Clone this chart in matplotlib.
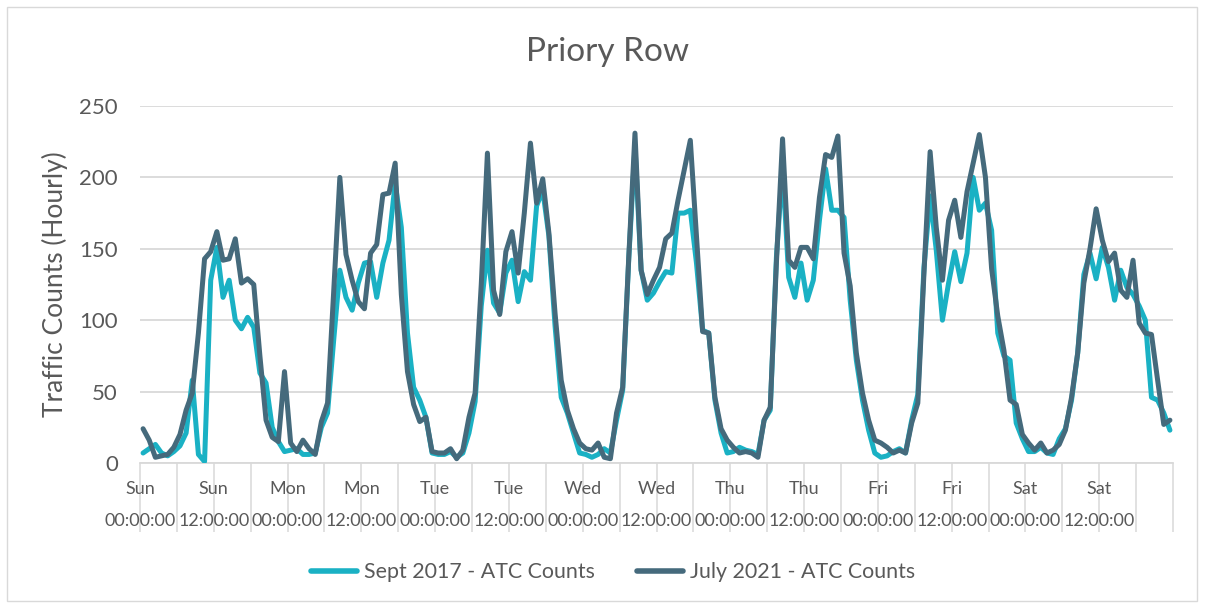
import matplotlib
matplotlib.use("Agg")
import matplotlib.pyplot as plt
from matplotlib.patches import Rectangle
import numpy as np

# ---- data (hourly counts, Sun 00:00 .. Sat 23:00) ----
sept_2017 = [
    7, 10, 13, 7, 5, 8, 12, 21, 58, 6, 1, 128, 151, 116, 128, 100, 94, 102, 95, 63, 56, 25, 15, 8,          # Sun
    9, 10, 6, 6, 7, 25, 35, 86, 135, 116, 107, 126, 140, 141, 116, 140, 156, 196, 165, 91, 53, 44, 32, 7,   # Mon
    6, 6, 8, 4, 7, 21, 43, 110, 149, 112, 105, 133, 142, 113, 134, 128, 180, 191, 159, 96, 46, 35, 21, 7,   # Tue
    6, 4, 6, 10, 7, 30, 51, 144, 222, 135, 114, 119, 127, 134, 133, 175, 175, 177, 140, 93, 91, 44, 21, 7,  # Wed
    8, 11, 9, 8, 6, 30, 37, 144, 208, 130, 116, 140, 114, 128, 170, 206, 177, 177, 172, 114, 72, 44, 23, 7, # Thu
    4, 5, 8, 10, 7, 30, 48, 137, 187, 149, 100, 126, 148, 127, 147, 200, 177, 182, 163, 91, 75, 72, 28, 17, # Fri
    8, 8, 11, 7, 6, 17, 24, 44, 77, 132, 147, 129, 151, 137, 114, 135, 123, 118, 110, 100, 46, 44, 35, 23,  # Sat
]
july_2021 = [
    24, 16, 4, 5, 6, 11, 20, 37, 49, 91, 143, 148, 162, 142, 143, 157, 126, 129, 125, 75, 30, 18, 15, 64,   # Sun
    14, 8, 16, 10, 6, 29, 42, 120, 200, 146, 128, 113, 108, 147, 153, 188, 189, 210, 118, 64, 41, 29, 32, 8, # Mon
    7, 7, 10, 3, 9, 32, 49, 125, 217, 121, 104, 148, 162, 133, 175, 224, 182, 199, 161, 105, 58, 37, 24, 14, # Tue
    10, 9, 14, 4, 3, 35, 53, 145, 231, 135, 118, 128, 137, 157, 161, 184, 205, 226, 159, 92, 91, 46, 24, 16, # Wed
    11, 7, 8, 7, 4, 30, 39, 140, 227, 142, 137, 151, 151, 143, 186, 216, 214, 229, 147, 124, 77, 49, 30, 16, # Thu
    14, 11, 7, 9, 7, 28, 42, 133, 218, 165, 128, 170, 184, 158, 190, 210, 230, 200, 136, 103, 79, 44, 41, 20, # Fri
    14, 9, 14, 7, 9, 13, 23, 46, 77, 126, 150, 178, 156, 141, 147, 121, 116, 142, 98, 91, 90, 58, 27, 30,    # Sat
]
days = ["Sun", "Mon", "Tue", "Wed", "Thu", "Fri", "Sat"]
times = ["00:00:00", "12:00:00"]
series_names = ["Sept 2017 - ATC Counts", "July 2021 - ATC Counts"]
title = "Priory Row"
ylabel = "Traffic Counts (Hourly)"

# ---- style ----
plt.rcParams['font.family'] = ['Lato', 'DejaVu Sans']
txt = "#595959"
grid = "#D9D9D9"
c_light = "#1AB1C4"
c_dark = "#456A7C"

W, H = 1205, 608
fig = plt.figure(figsize=(W / 100, H / 100), dpi=100)
fig.patch.set_facecolor("white")
fig.patches.append(Rectangle((7 / W, 7 / H), (1197 - 7) / W, (601 - 7) / H,
                             transform=fig.transFigure, fill=False,
                             edgecolor=grid, linewidth=1.0))

left, right = 140 / W, 1173 / W
bottom, top = 1 - 463 / H, 1 - 106 / H
ax = fig.add_axes([left, bottom, right - left, top - bottom])

n = len(sept_2017)
x = np.arange(n)
ax.plot(x, sept_2017, color=c_light, lw=3.6, solid_joinstyle="round",
        solid_capstyle="round", label=series_names[0], zorder=3)
ax.plot(x, july_2021, color=c_dark, lw=3.6, solid_joinstyle="round",
        solid_capstyle="round", label=series_names[1], zorder=4)

ax.set_xlim(-0.5, n - 0.5)
ax.set_ylim(0, 250)
ax.set_yticks(np.arange(0, 251, 50))
ax.yaxis.grid(True, color=grid, lw=1.3)
ax.set_axisbelow(True)
for s in ["left", "right", "top"]:
    ax.spines[s].set_visible(False)
ax.spines["bottom"].set_color(grid)
ax.spines["bottom"].set_linewidth(1.3)

ax.tick_params(axis="y", length=0, pad=16, labelsize=16, labelcolor=txt)

# x labels every 12 hours, long ticks every 6 hours
lab_pos = np.arange(-0.5, n - 1, 12)
labels = [f"{days[i // 2]}\n{times[i % 2]}" for i in range(len(lab_pos))]
ax.set_xticks(lab_pos)
ax.set_xticklabels(labels, linespacing=2.2)
ax.set_xticks(list(np.arange(5.5, n, 12)) + [n - 0.5], minor=True)
ax.tick_params(axis="x", which="both", direction="out", length=50, width=1.1,
               color=grid)
ax.tick_params(axis="x", which="major", pad=-37, labelsize=13, labelcolor=txt)

fig.text(608 / W, 1 - 52 / H, title, fontsize=24, color=txt, ha="center", va="center")
ax.set_ylabel(ylabel, fontsize=19, color=txt)
ax.yaxis.set_label_coords(-72 / 1033, 0.5)

fig.legend(loc="center", bbox_to_anchor=(613 / W, 1 - 572 / H), ncol=2,
           frameon=False, fontsize=15.4, labelcolor=txt, handlelength=2.15,
           handletextpad=0.3, columnspacing=2.0)
for line in fig.legends[0].get_lines():
    line.set_linewidth(4)

fig.savefig("out.png", dpi=100)
